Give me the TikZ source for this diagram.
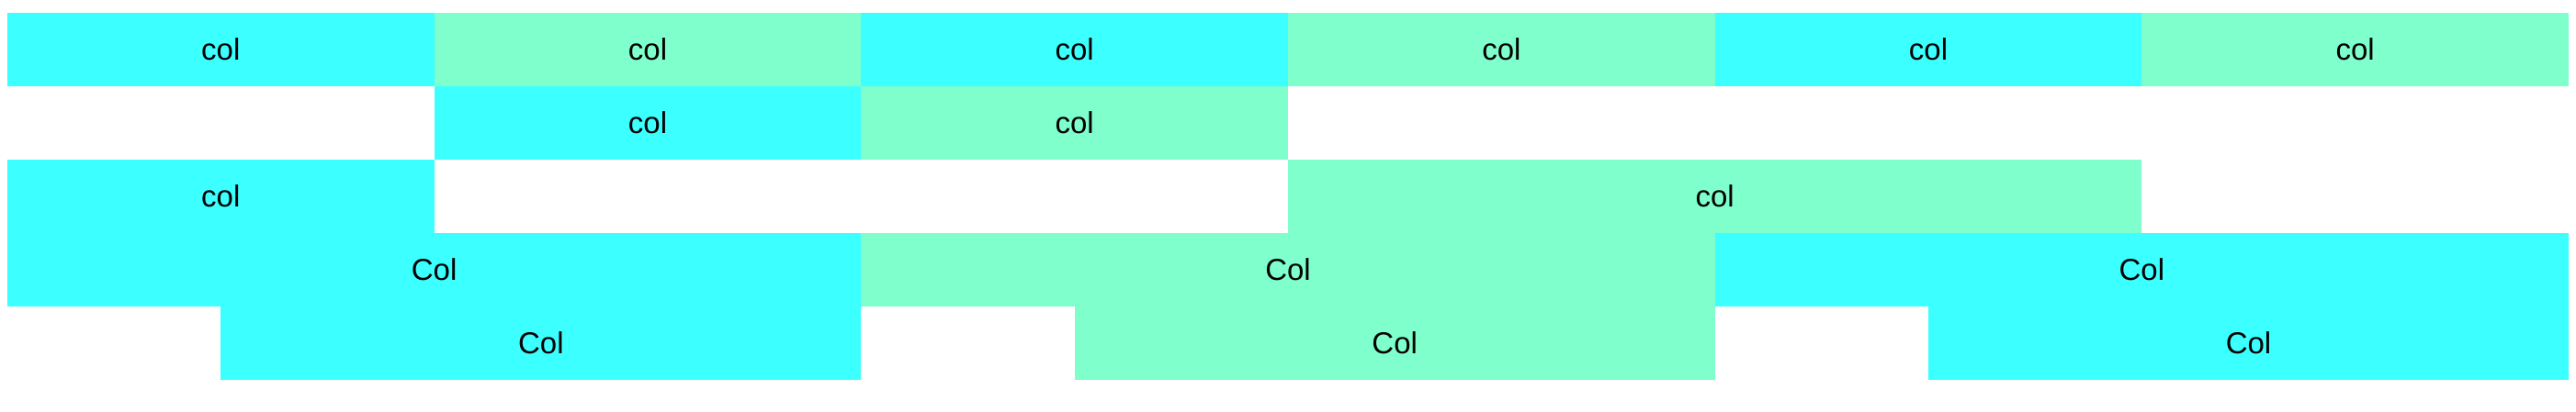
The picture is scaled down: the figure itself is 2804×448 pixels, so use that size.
\documentclass[tikz,border=0pt]{standalone}
\usepackage{fontspec}
\setmainfont{Liberation Sans}
\usepackage{xcolor}
\usetikzlibrary{positioning}

\definecolor{colcyan}{RGB}{60,255,255}
\definecolor{colgreen}{RGB}{127,255,204}

\tikzset{
  cell/.style={anchor=north west, inner sep=0pt, outer sep=0pt, minimum height=80pt, text=black, font=\fontsize{33}{40}\selectfont},
  cyancell/.style={cell, fill=colcyan},
  greencell/.style={cell, fill=colgreen},
  single/.style={minimum width=464.67pt},
  double/.style={minimum width=929.33pt},
  onehalf/.style={minimum width=697pt},
}

\begin{document}
\begin{tikzpicture}[x=1pt,y=1pt]
  \useasboundingbox (0,0) rectangle (2804,448);

  % first row: six columns
  \node[cyancell, single] (ra) at (8,434) {col};
  \node[greencell, single] (rb) at (472.67,434) {col};
  \node[cyancell, single] (rc) at (937.33,434) {col};
  \node[greencell, single] (rd) at (1402,434) {col};
  \node[cyancell, single] (re) at (1866.67,434) {col};
  \node[greencell, single] (rf) at (2331.33,434) {col};

  % second row, offset by one
  \node[cyancell, single] (sa) at (472.67,354) {col};
  \node[greencell, single] (sb) at (937.33,354) {col};

  % third row
  \node[cyancell, single] (ta) at (8,274) {col};
  \node[greencell, double] (tb) at (1402,274) {col};

  % fourth row: three wide columns
  \node[cyancell, double] (ua) at (8,194) {Col};
  \node[greencell, double] (ub) at (937.33,194) {Col};
  \node[cyancell, double] (uc) at (1866.67,194) {Col};

  % fifth row, shifted by half a column
  \node[cyancell, onehalf] (va) at (240.33,114) {Col};
  \node[greencell, onehalf] (vb) at (1169.67,114) {Col};
  \node[cyancell, onehalf] (vc) at (2099,114) {Col};
\end{tikzpicture}
\end{document}
